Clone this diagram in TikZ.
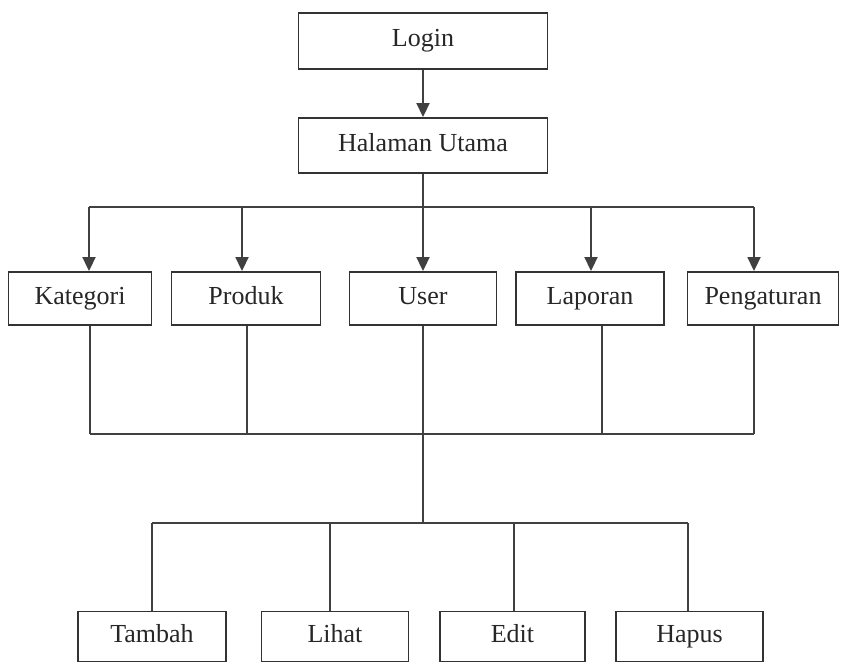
\documentclass[tikz,border=0pt]{standalone}
\usepackage{fontspec}
\setmainfont{Liberation Serif}
\usetikzlibrary{arrows.meta,positioning,calc}

\begin{document}
\begin{tikzpicture}[
  x=1pt, y=-1pt,
  font=\fontsize{26}{30}\selectfont,
  menubox/.style={
    draw=black!80,
    line width=1.9pt,
    text=black!85,
    minimum height=53pt,
    text height=17pt,
    text depth=5pt,
    inner sep=2pt,
    align=center
  },
  link/.style={line width=1.9pt, draw=black!75},
  flow/.style={-{Triangle[length=14pt,width=13pt]}, line width=1.9pt, draw=black!75}
]

\useasboundingbox (0,0) rectangle (842,663);

% top of the tree
\node[menubox, minimum width=249pt, minimum height=56pt] (login) at (423,41) {Login};
\node[menubox, minimum width=249pt, minimum height=55pt] (halaman) at (423,145.5) {Halaman Utama};

% main menu row
\node[menubox, minimum width=143pt] (kategori) at (80,298.5) {Kategori};
\node[menubox, minimum width=149pt] (produk) at (246,298.5) {Produk};
\node[menubox, minimum width=147pt] (user) at (423,298.5) {User};
\node[menubox, minimum width=148pt] (laporan) at (590,298.5) {Laporan};
\node[menubox, minimum width=151pt] (pengaturan) at (763,298.5) {Pengaturan};

% actions shared by every menu
\node[menubox, minimum width=148pt, minimum height=50pt] (tambah) at (152,636.5) {Tambah};
\node[menubox, minimum width=147pt, minimum height=50pt] (lihat) at (335,636.5) {Lihat};
\node[menubox, minimum width=145pt, minimum height=50pt] (edit) at (512.5,636.5) {Edit};
\node[menubox, minimum width=147pt, minimum height=50pt] (hapus) at (689.5,636.5) {Hapus};

% junction points of the tree
\coordinate (hubA) at (423,207);
\coordinate (hubB) at (423,434);
\coordinate (hubC) at (423,523);

\draw[flow] (login) -- (halaman);

\draw[link] (halaman.south) -- (hubA);
\draw[link] ([xshift=9pt]kategori.north |- hubA) -- ([xshift=-9pt]pengaturan.north |- hubA);
\foreach \n/\dx in {kategori/9,produk/-4,user/0,laporan/1,pengaturan/-9} {
  \draw[flow] ([xshift=\dx pt]\n.north |- hubA) -- ([xshift=\dx pt]\n.north);
}

\foreach \n/\dx in {kategori/10,produk/1,user/0,laporan/12,pengaturan/-9} {
  \draw[link] ([xshift=\dx pt]\n.south) -- ([xshift=\dx pt]\n.south |- hubB);
}
\draw[link] ([xshift=10pt]kategori.south |- hubB) -- ([xshift=-9pt]pengaturan.south |- hubB);

\draw[link] (hubB) -- (hubC);
\draw[link] (tambah.north |- hubC) -- ([xshift=-1.5pt]hapus.north |- hubC);
\foreach \n/\dx in {tambah/0,lihat/-5,edit/1.5,hapus/-1.5} {
  \draw[link] ([xshift=\dx pt]\n.north |- hubC) -- ([xshift=\dx pt]\n.north);
}

\end{tikzpicture}
\end{document}
